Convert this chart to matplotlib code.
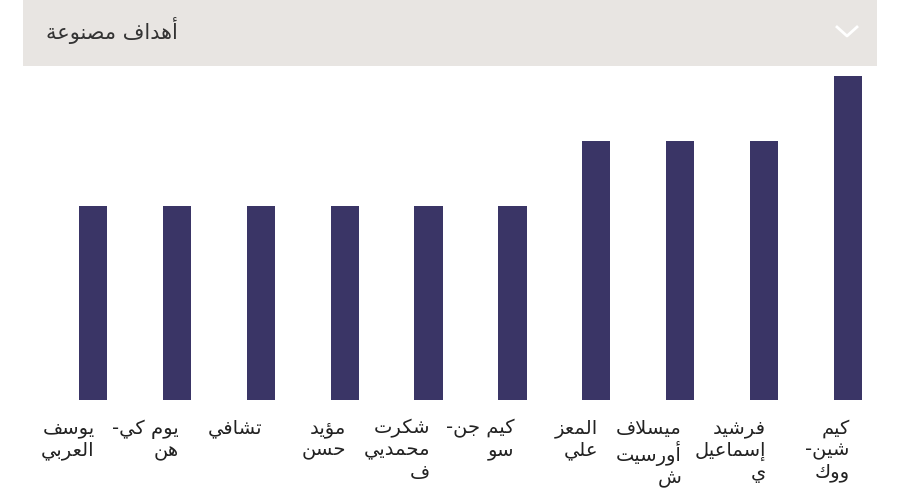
import matplotlib
matplotlib.use("Agg")
import matplotlib.pyplot as plt
from matplotlib.patches import Rectangle
from matplotlib.lines import Line2D

title = "أهداف مصنوعة"
players = ["كيم\nشين-\nووك", "فرشيد\nإسماعيل\nي", "ميسلاف\nأورسيت\nش", "المعز\nعلي",
           "كيم جن-\nسو", "شكرت\nمحمديي\nف", "مؤيد\nحسن", "تشافي", "يوم كي-\nهن", "يوسف\nالعربي"]
assists = [5, 4, 4, 4, 3, 3, 3, 3, 3, 3]

FORMS = {
 'ا': (0xFE8D, 0xFE8E), 'أ': (0xFE83, 0xFE84), 'إ': (0xFE87, 0xFE88), 'ؤ': (0xFE85, 0xFE86),
 'ة': (0xFE93, 0xFE94), 'د': (0xFEA9, 0xFEAA), 'ر': (0xFEAD, 0xFEAE), 'ز': (0xFEAF, 0xFEB0),
 'و': (0xFEED, 0xFEEE),
 'ب': (0xFE8F, 0xFE90, 0xFE91, 0xFE92), 'ت': (0xFE95, 0xFE96, 0xFE97, 0xFE98),
 'ج': (0xFE9D, 0xFE9E, 0xFE9F, 0xFEA0), 'ح': (0xFEA1, 0xFEA2, 0xFEA3, 0xFEA4),
 'س': (0xFEB1, 0xFEB2, 0xFEB3, 0xFEB4), 'ش': (0xFEB5, 0xFEB6, 0xFEB7, 0xFEB8),
 'ص': (0xFEB9, 0xFEBA, 0xFEBB, 0xFEBC), 'ع': (0xFEC9, 0xFECA, 0xFECB, 0xFECC),
 'ف': (0xFED1, 0xFED2, 0xFED3, 0xFED4), 'ك': (0xFED9, 0xFEDA, 0xFEDB, 0xFEDC),
 'ل': (0xFEDD, 0xFEDE, 0xFEDF, 0xFEE0), 'م': (0xFEE1, 0xFEE2, 0xFEE3, 0xFEE4),
 'ن': (0xFEE5, 0xFEE6, 0xFEE7, 0xFEE8), 'ه': (0xFEE9, 0xFEEA, 0xFEEB, 0xFEEC),
 'ي': (0xFEF1, 0xFEF2, 0xFEF3, 0xFEF4),
}
LAMALEF = {'ا': (0xFEFB, 0xFEFC), 'أ': (0xFEF7, 0xFEF8), 'إ': (0xFEF9, 0xFEFA)}

def shape_line(s):
    toks = []
    i = 0
    while i < len(s):
        if s[i] == 'ل' and i + 1 < len(s) and s[i+1] in LAMALEF:
            toks.append(('LA', s[i+1])); i += 2
        else:
            toks.append(('C', s[i])); i += 1
    def dual(t):
        return t[0] == 'C' and t[1] in FORMS and len(FORMS[t[1]]) == 4
    def arab(t):
        return t[0] == 'LA' or t[1] in FORMS
    out = []
    for k, t in enumerate(toks):
        pj = k > 0 and dual(toks[k-1])
        nj = k + 1 < len(toks) and arab(toks[k+1])
        if t[0] == 'LA':
            f = LAMALEF[t[1]]
            out.append(chr(f[1] if pj else f[0])); continue
        c = t[1]
        if c not in FORMS:
            out.append(c); continue
        f = FORMS[c]
        if len(f) == 2:
            out.append(chr(f[1] if pj else f[0]))
        else:
            if pj and nj: out.append(chr(f[3]))
            elif pj: out.append(chr(f[1]))
            elif nj: out.append(chr(f[2]))
            else: out.append(chr(f[0]))
    return ''.join(out)[::-1]

def shape(s):
    return "\n".join(shape_line(l) for l in s.split("\n"))

W, H = 911, 500
fig = plt.figure(figsize=(W/100, H/100), dpi=100)
fig.patch.set_facecolor("white")

fig.patches.append(Rectangle((23/W, 1-66/H), (877-23)/W, 66/H, transform=fig.transFigure,
                             facecolor="#e8e5e2", edgecolor="none"))
fig.text(178/W, 1-31/H, shape(title), ha="right", va="center", fontsize=15,
         color="#333333", family="DejaVu Sans")
fig.lines.append(Line2D([837/W, 847/W, 857/W], [1-27/H, 1-36/H, 1-27/H], transform=fig.transFigure,
                        color="white", lw=2))

ax = fig.add_axes([51/W, 1-400/H, (890-51)/W, (400-76)/H])
n = len(players)
xs = list(range(n))[::-1]
ax.bar(xs, assists, width=0.335, color="#3a3566")
ax.set_xlim(-0.5, n - 0.5)
ax.set_ylim(0, 5)
ax.axis("off")

for x, name in zip(xs, players):
    ax.text(x + 0.02, -0.3, shape(name), ha="right", va="top", fontsize=14,
            color="#222222", family="DejaVu Sans", linespacing=1.15)

fig.savefig("out.png", dpi=100)
